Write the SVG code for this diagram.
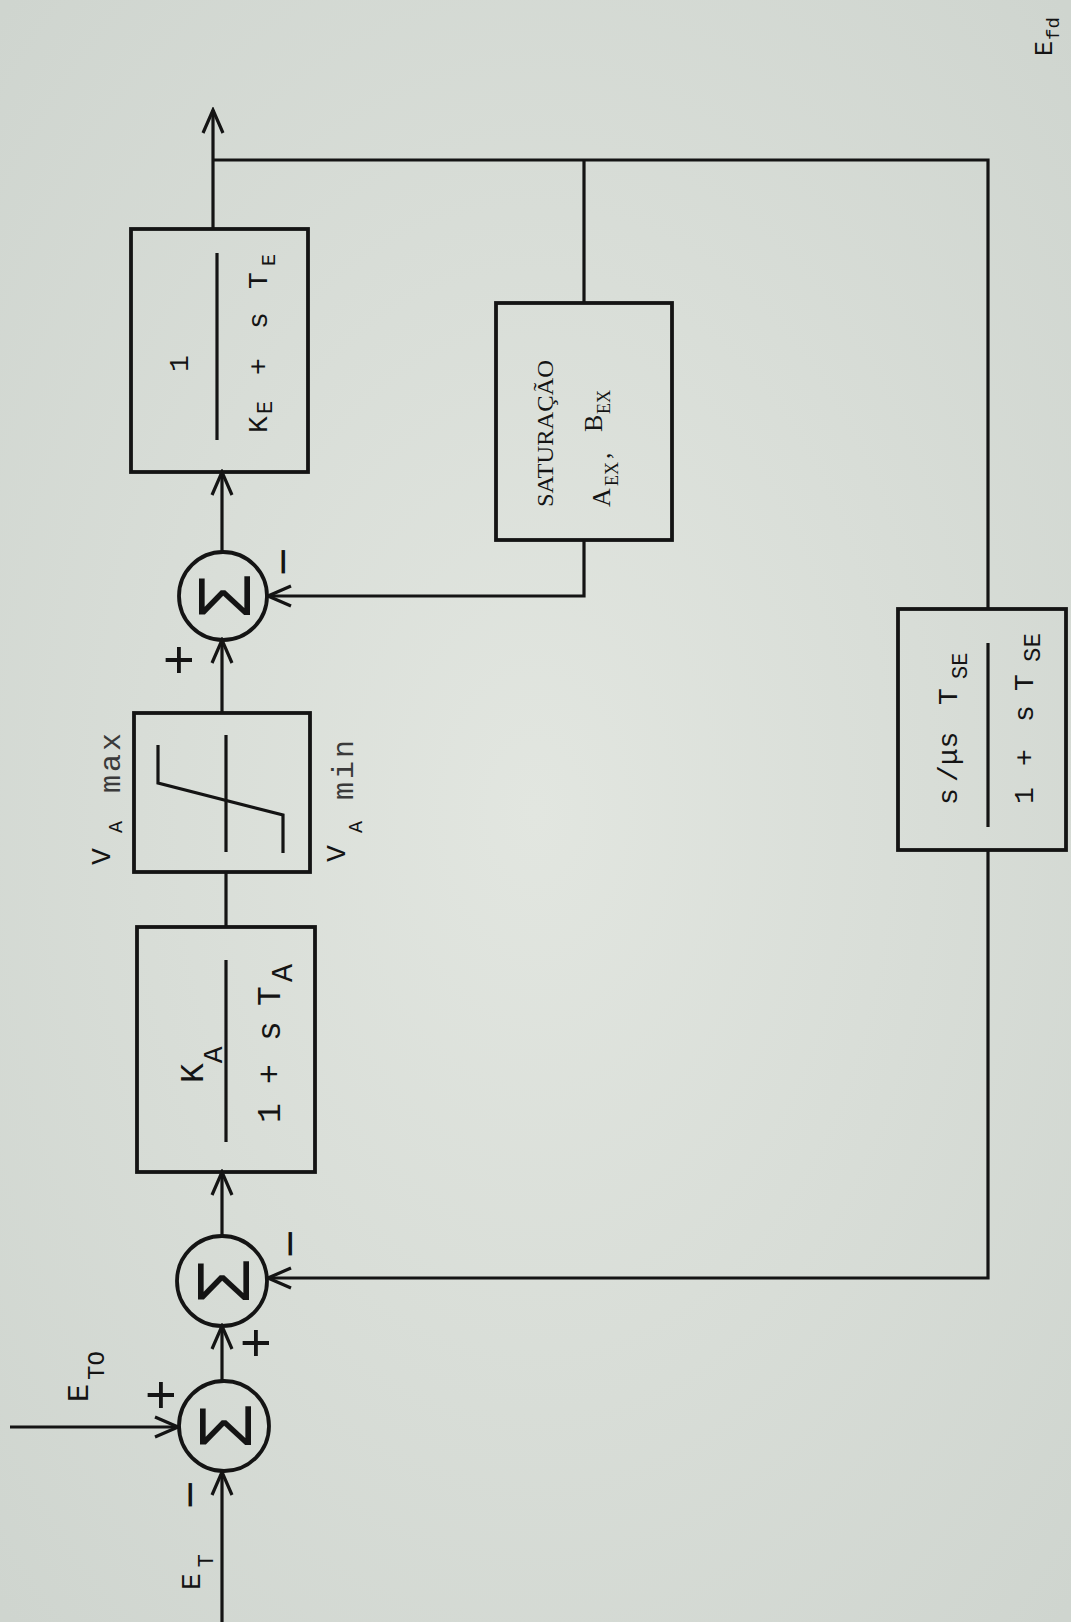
<svg xmlns="http://www.w3.org/2000/svg" width="1071" height="1622" viewBox="0 0 1071 1622">
<style>
.box{fill:none;stroke:#141414;stroke-width:3.8}
.ln{fill:none;stroke:#141414;stroke-width:3.2}
.m{font-family:"Liberation Mono","DejaVu Sans Mono",monospace;fill:#141414}
.s{font-family:"Liberation Serif","DejaVu Serif",serif;fill:#141414}
.sg{font-family:"Liberation Sans","DejaVu Sans",sans-serif;fill:#141414}
.faint{fill:#3a3a3a}
</style>
<defs>
<marker id="ah" markerWidth="28" markerHeight="24" refX="25" refY="12" orient="auto" markerUnits="userSpaceOnUse">
<path d="M2,2 L25,12 L2,22" fill="none" stroke="#141414" stroke-width="3.2"/>
</marker>
<radialGradient id="bg" cx="0.5" cy="0.5" r="0.7">
<stop offset="0" stop-color="#e2e6e0"/>
<stop offset="1" stop-color="#cfd5cf"/>
</radialGradient>
</defs>
<rect x="0" y="0" width="1071" height="1622" fill="url(#bg)"/>
<g transform="translate(0,1622) rotate(-90)">
<g id="connectors">
<path class="ln" d="M0,222 L150,222" marker-end="url(#ah)"/>
<path class="ln" d="M195,10 L195,178" marker-end="url(#ah)"/>
<path class="ln" d="M241,222 L296,222" marker-end="url(#ah)"/>
<path class="ln" d="M772,988 L344,988 L344,268" marker-end="url(#ah)"/>
<path class="ln" d="M386,222 L450,222" marker-end="url(#ah)"/>
<path class="ln" d="M695,226 L750,226"/>
<path class="ln" d="M909,222 L982,222" marker-end="url(#ah)"/>
<path class="ln" d="M1082,584 L1026,584 L1026,268" marker-end="url(#ah)"/>
<path class="ln" d="M1070,222 L1150,222" marker-end="url(#ah)"/>
<path class="ln" d="M1393,213 L1512,213" marker-end="url(#ah)"/>
<path class="ln" d="M1462,213 L1462,988 L1013,988"/>
<path class="ln" d="M1462,584 L1319,584"/>
</g>
<g id="input_ET">
<text class="m" x="32" y="200" font-size="28">E<tspan dx="6" dy="13" font-size="22">T</tspan></text>
<text class="sg" x="127" y="206" font-size="48" text-anchor="middle">−</text>
</g>
<g id="input_ETO">
<text class="m" x="220" y="88" font-size="30">E<tspan dx="4" dy="16" font-size="24">TO</tspan></text>
<text class="sg" x="227" y="179" font-size="54" text-anchor="middle">+</text>
</g>
<g id="sum1">
<circle class="box" cx="196" cy="224" r="45"/>
<text class="sg" x="196" y="251" font-size="74" text-anchor="middle">Σ</text>
</g>
<g id="sum2">
<circle class="box" cx="341" cy="222" r="45"/>
<text class="sg" x="341" y="249" font-size="74" text-anchor="middle">Σ</text>
<text class="sg" x="279" y="274" font-size="54" text-anchor="middle">+</text>
<text class="sg" x="378" y="306" font-size="48" text-anchor="middle">−</text>
</g>
<g id="block_KA">
<rect class="box" x="450" y="137" width="245" height="178"/>
<line class="ln" x1="480" y1="226" x2="662" y2="226"/>
<text class="m" x="539" y="203" font-size="33">K<tspan dy="19" font-size="28">A</tspan></text>
<text class="m" font-size="33" y="280"><tspan x="499">1</tspan><tspan x="538">+</tspan><tspan x="581">s</tspan><tspan x="616">T</tspan><tspan x="640" dy="12" font-size="30">A</tspan></text>
</g>
<g id="limiter">
<rect class="box" x="750" y="134" width="159" height="176"/>
<line class="ln" x1="770" y1="226" x2="887" y2="226"/>
<polyline class="ln" points="769,283 807,283 839,158 877,158"/>
<text class="m" x="757" y="110" font-size="28">V<tspan x="789" y="122" font-size="20">A</tspan><tspan class="faint" x="829" y="120" font-size="30" letter-spacing="3">max</tspan></text>
<text class="m" x="760" y="345" font-size="28">V<tspan x="789" y="362" font-size="20">A</tspan><tspan class="faint" x="822" y="353" font-size="30" letter-spacing="3">min</tspan></text>
</g>
<g id="sum3">
<circle class="box" cx="1026" cy="223" r="44"/>
<text class="sg" x="1026" y="250" font-size="74" text-anchor="middle">Σ</text>
<text class="sg" x="962" y="197" font-size="54" text-anchor="middle">+</text>
<text class="sg" x="1060" y="299" font-size="48" text-anchor="middle">−</text>
</g>
<g id="block_KE">
<rect class="box" x="1150" y="131" width="243" height="177"/>
<line class="ln" x1="1182" y1="217" x2="1369" y2="217"/>
<text class="m" x="1250" y="188" font-size="28">1</text>
<text class="m" font-size="28" y="267"><tspan x="1189">K</tspan><tspan x="1208" dy="5" font-size="22">E</tspan><tspan x="1247" dy="-5">+</tspan><tspan x="1293">s</tspan><tspan x="1333">T</tspan><tspan x="1356" dy="8" font-size="20">E</tspan></text>
</g>
<g id="block_saturacao">
<rect class="box" x="1082" y="496" width="237" height="176"/>
<text class="s" x="1115" y="553" font-size="24" textLength="147" lengthAdjust="spacingAndGlyphs">SATURAÇÃO</text>
<text class="s" font-size="26"><tspan x="1115" y="610">A</tspan><tspan x="1136" y="618" font-size="18">EX</tspan><tspan x="1163" y="610">,</tspan><tspan x="1190" y="602">B</tspan><tspan x="1208" y="610" font-size="18">EX</tspan></text>
</g>
<g id="block_SE">
<rect class="box" x="772" y="898" width="241" height="168"/>
<line class="ln" x1="795" y1="988" x2="979" y2="988"/>
<text class="m" font-size="28" y="957"><tspan x="817">s</tspan><tspan x="840">/μs</tspan><tspan x="917">T</tspan><tspan x="943" dy="10" font-size="22">SE</tspan></text>
<text class="m" font-size="28" y="1033"><tspan x="818">1</tspan><tspan x="856">+</tspan><tspan x="900">s</tspan><tspan x="931">T</tspan><tspan x="960" dy="7" font-size="24">SE</tspan></text>
</g>
<g id="output_Efd">
<text class="m" x="1566" y="1052" font-size="25">E<tspan dx="1" dy="7" font-size="19">fd</tspan></text>
</g>
</g>
</svg>
